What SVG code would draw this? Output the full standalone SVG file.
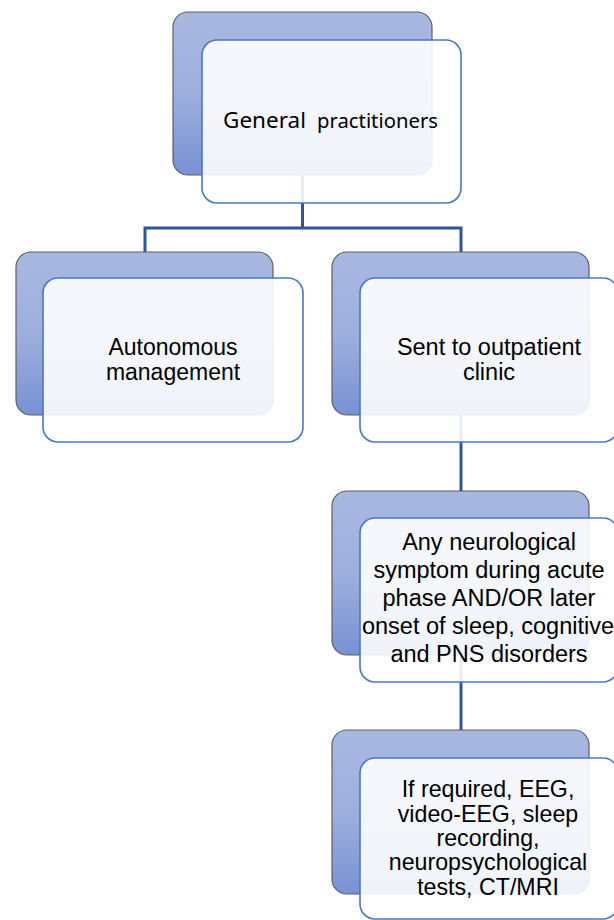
<svg xmlns="http://www.w3.org/2000/svg" width="614" height="920" viewBox="0 0 614 920">
<defs>
<linearGradient id="bg" x1="0" y1="0" x2="0" y2="1">
<stop offset="0" stop-color="#a9b8e0"/>
<stop offset="0.5" stop-color="#9eafde"/>
<stop offset="1" stop-color="#7891d4"/>
</linearGradient>
<style>
.back{fill:url(#bg);stroke:#5e5e66;stroke-width:1.2}
.front{fill:#ffffff;fill-opacity:0.89;stroke:#4a78c6;stroke-width:1.6}
.conn{fill:none;stroke:#2f5597;stroke-width:3}
.t{font-family:"Liberation Sans",Arial,sans-serif;font-size:23px;fill:#000;text-anchor:middle}
.g{font-family:"Noto Sans","Open Sans",sans-serif;fill:#000}
</style>
</defs>
<rect width="614" height="920" fill="#fff"/>
<g id="connectors">
<path class="conn" d="M302.5,175 V228 M145,228 H461 M145,226.5 V252 M461,226.5 V252"/>
<path class="conn" d="M461,415 V491"/>
<path class="conn" d="M461,655 V730"/>
</g>
<g id="n1">
<rect class="back" x="173" y="12" width="259" height="163" rx="15"/>
<rect class="front" x="202" y="40" width="259" height="163" rx="15"/>
<text class="g" y="128"><tspan x="223" font-size="22.5">General</tspan><tspan x="317" font-size="20.3">practitioners</tspan></text>
</g>
<g id="n2">
<rect class="back" x="16" y="252" width="257" height="163" rx="15"/>
<rect class="front" x="43" y="278" width="260" height="164" rx="15"/>
<text class="t"><tspan x="173" y="355">Autonomous</tspan><tspan x="173" y="380">management</tspan></text>
</g>
<g id="n3">
<rect class="back" x="332" y="252" width="257" height="163" rx="15"/>
<rect class="front" x="360" y="278" width="258" height="164" rx="15"/>
<text class="t" style="font-size:23.5px"><tspan x="489" y="355">Sent to outpatient</tspan><tspan x="489" y="380">clinic</tspan></text>
</g>
<g id="n4">
<rect class="back" x="332" y="491" width="257" height="164" rx="15"/>
<rect class="front" x="360" y="518" width="258" height="164" rx="15"/>
<text class="t" style="font-size:23.5px"><tspan x="489" y="550">Any neurological</tspan><tspan x="489" y="578">symptom during acute</tspan><tspan x="489" y="606">phase AND/OR later</tspan><tspan x="488" y="634">onset of sleep, cognitive</tspan><tspan x="489" y="662">and PNS disorders</tspan></text>
</g>
<g id="n5">
<rect class="back" x="332" y="730" width="257" height="164" rx="15"/>
<rect class="front" x="360" y="758" width="258" height="161" rx="15"/>
<text class="t" style="font-size:23.2px"><tspan x="488" y="797">If required, EEG,</tspan><tspan x="488" y="822">video-EEG, sleep</tspan><tspan x="488" y="846">recording,</tspan><tspan x="488" y="870">neuropsychological</tspan><tspan x="488" y="895">tests, CT/MRI</tspan></text>
</g>
</svg>
